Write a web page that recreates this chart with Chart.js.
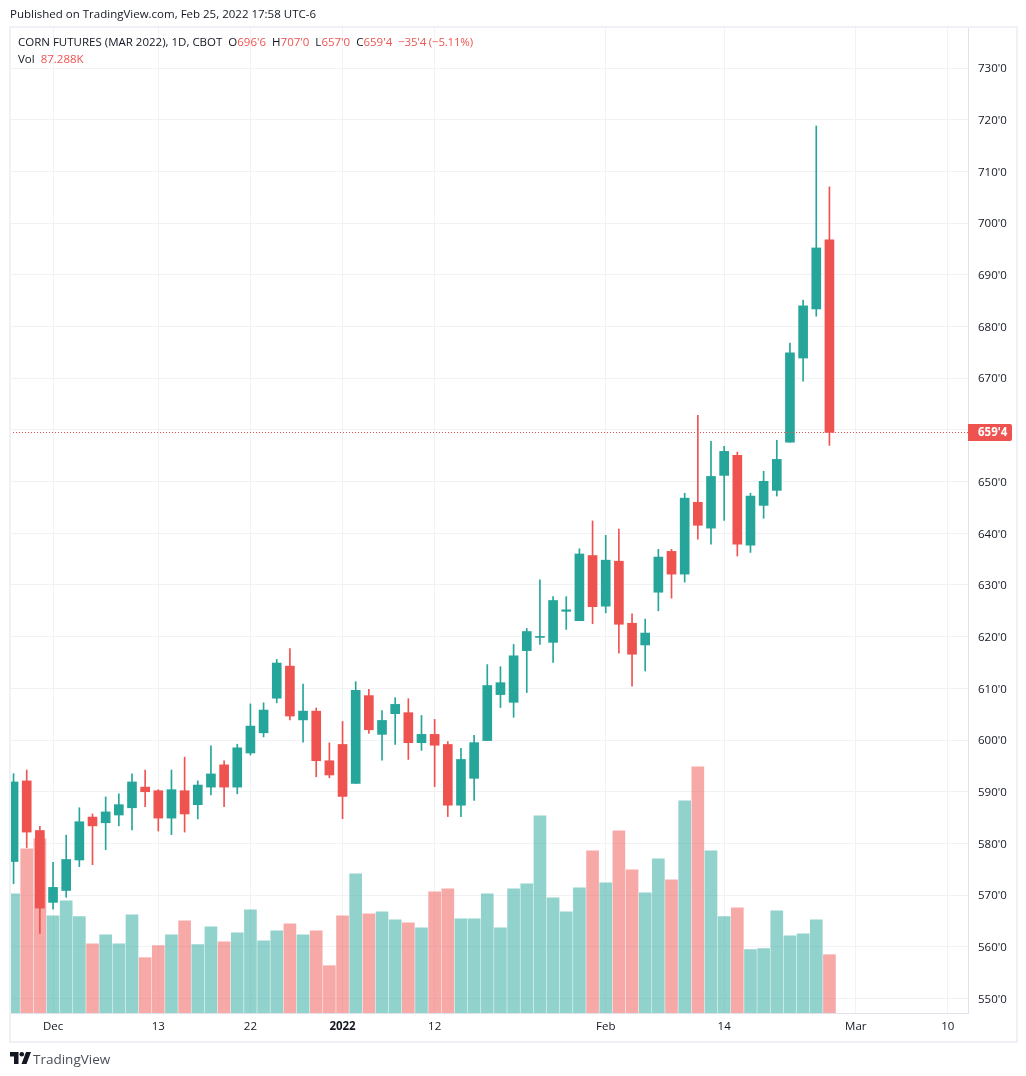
<!DOCTYPE html>
<html>
<head>
<meta charset="utf-8">
<script src="https://cdn.jsdelivr.net/npm/chart.js@4"></script>
<style>
  html, body { margin: 0; padding: 0; background: #fff; }
  body { width: 1026px; height: 1076px; position: relative; overflow: hidden; font-family: "Open Sans", sans-serif; color: #131722; }
  canvas { position: absolute; left: 0; top: 0; }
  .txt { position: absolute; white-space: pre; font-size: 11.5px; line-height: 14px; }
  .red { color: #ef5350; }
  #frame { position: absolute; left: 9px; top: 26px; width: 1005px; height: 1013px; border: 2px solid #f0f1f6; }
</style>
</head>
<body>
<canvas id="cornChart" width="1026" height="1076"></canvas>
<div id="frame"></div>
<div class="txt" style="left:10px;top:7px">Published on TradingView.com, Feb 25, 2022 17:58 UTC-6</div>
<div class="txt" style="left:18px;top:35px">CORN FUTURES (MAR 2022), 1D, CBOT  O<span class="red">696'6</span>  H<span class="red">707'0</span>  L<span class="red">657'0</span>  C<span class="red">659'4</span>  <span class="red" style="letter-spacing:-0.2px">−35'4 (−5.11%)</span></div>
<div class="txt" style="left:18px;top:52px">Vol  <span class="red">87.288K</span></div>
<svg style="position:absolute;left:10px;top:1052px" width="21" height="12" viewBox="0 0 21 12">
  <path d="M0 0H8.5V12H4V4.5H0Z M16 0H21L16.5 12H11.5Z" fill="#131722"/>
  <circle cx="11.8" cy="2.3" r="2.3" fill="#131722"/>
</svg>
<div class="txt" style="left:33px;top:1051px;font-size:13.5px;line-height:16px;color:#4a4e59">TradingView</div>

<script>
const opens = [576.5,592.1,582.5,568.6,570.9,576.8,585.1,584,585.5,586.9,590.9,590.2,584.9,590.2,587.5,590.9,595.2,590.9,597.5,601.4,608.1,614.3,603.9,605.6,596,599.15,591.6,608.6,601.1,605.1,605.3,599.5,601.1,599.15,587.4,592.6,599.9,608.8,607.3,617.3,619.85,618.9,624.9,623.1,635.7,625.9,634.6,622.6,618.4,628.6,636.5,632.1,646,641,651.2,655.1,637.7,645.4,648.3,657.65,673.9,683.4,696.75];
const highs = [593.5,594.2,583.3,576.35,581.6,586.9,585.7,589,589.6,593.45,594.2,590.4,594.2,596.7,592.1,598.9,596,599.2,607,607.2,615.6,617.7,610.85,606.2,599.45,603.6,611.3,609.8,605.7,608.2,608,604.75,604,599.7,598.4,600.9,614.6,614.2,618.5,621.6,631,627.75,627.75,637,642.4,639.6,640.8,624.4,623.4,636.9,636.9,647.75,662.8,657.8,656.8,655.7,647.75,652,658,676.8,685.1,718.8,707];
const lows = [572.2,579.2,562.6,567.3,569.6,575.5,575.9,578.8,583.4,582.6,587.1,582.4,581.7,582.2,584.75,589.4,587.1,589.6,597.1,600.6,607.2,603.9,599.6,592.9,592.7,584.8,591.6,601.3,596.1,599.15,596.25,598,591,585.2,585.2,588.3,599.9,606.3,604.4,609.2,618.5,615,621.4,623.1,622.5,624.6,616.8,610.45,613.35,625,627.45,630.55,638.85,637.9,642.5,635.6,636.3,642.9,647.2,657.65,669.45,682,657];
const closes = [591.9,582.2,567.5,571.5,576.9,584.2,583.4,586.1,587.5,591.9,590,584.9,590.4,585.7,591.3,593.45,590.9,598.5,602.7,605.8,614.9,604.65,605.6,596,593.25,589.1,609.6,602,603.8,606.9,599.5,601.1,599,587.4,596.25,599.5,610.55,611.1,616.3,621,620.05,627,625.2,636,625.8,634.8,622.4,616.6,620.7,635.4,632.1,646.8,641.55,651,655.85,637.9,647.2,650.05,654.3,674.9,684,695.2,659.5];
const volumes = [178.6,245.9,260.9,145.6,168.1,144.2,103.7,117.2,103.7,147.1,82.8,100.8,117.2,138.2,102.3,129.2,106.7,120.2,154.6,108.2,123.2,133.7,117.2,123.2,70.8,145.6,208.5,148.6,151.6,139.7,135.2,127.7,181.6,186,141.1,141.1,178.6,127.7,186,193.5,295.3,172.6,151.6,187.5,242.9,195,272.8,214.5,180,230.9,199.5,317.7,368.6,242.9,144.2,157.6,94.8,96.3,153.1,115.7,118.7,139.7,87.288];
const priceTicks = [550,560,570,580,590,600,610,620,630,640,650,660,670,680,690,700,710,720,730];
const timeTickPositions = [3,11,18,25,32,45,54,64,71];
const timeTickLabels = ["Dec","13","22","2022","12","Feb","14","Mar","10"];
const lastPrice = 659.5;
const lastPriceLabel = "659'4";

const UP = "#26a69a", DOWN = "#ef5350";
const UP_VOL = "rgba(38,166,154,0.5)", DOWN_VOL = "rgba(239,83,80,0.5)";
const GRID = "#f1f2f6";
const X_MIN = -0.27, X_MAX = 72.53;

const isUp = opens.map((o, i) => closes[i] >= o);

// red price tag on the right axis
const lastPriceTag = {
    id: "lastPriceTag",
    afterDraw(chart) {
        const ctx = chart.ctx;
        const y = chart.scales.y.getPixelForValue(lastPrice);
        const left = chart.chartArea.right;
        ctx.save();
        ctx.fillStyle = DOWN;
        ctx.beginPath();
        ctx.roundRect(left, Math.round(y) - 8, 44, 17, [0, 2, 2, 0]);
        ctx.fill();
        ctx.fillStyle = "#fff";
        ctx.font = "bold 11.5px 'Open Sans', sans-serif";
        ctx.textAlign = "left";
        ctx.textBaseline = "middle";
        ctx.fillText(lastPriceLabel, left + 10, Math.round(y) + 1);
        ctx.restore();
    }
};

new Chart(document.getElementById("cornChart").getContext("2d"), {
    data: {
        datasets: [
            {
                type: "line",
                data: [{ x: X_MIN, y: lastPrice }, { x: X_MAX, y: lastPrice }],
                borderColor: DOWN,
                borderWidth: 1,
                borderDash: [1, 2],
                pointRadius: 0,
                yAxisID: "y",
                order: 0
            },
            {
                type: "bar",
                data: opens.map((o, i) => ({ x: i, y: [o, closes[i]] })),
                backgroundColor: isUp.map(u => u ? UP : DOWN),
                barThickness: 9,
                grouped: false,
                minBarLength: 1,
                yAxisID: "y",
                order: 1
            },
            {
                type: "bar",
                data: lows.map((l, i) => ({ x: i, y: [l, highs[i]] })),
                backgroundColor: isUp.map(u => u ? UP : DOWN),
                barThickness: 1,
                grouped: false,
                yAxisID: "y",
                order: 2
            },
            {
                type: "bar",
                data: volumes.map((v, i) => ({ x: i, y: v })),
                backgroundColor: isUp.map(u => u ? UP_VOL : DOWN_VOL),
                barThickness: 12,
                grouped: false,
                yAxisID: "vol",
                order: 3
            }
        ]
    },
    options: {
        responsive: false,
        animation: false,
        events: [],
        layout: { padding: { left: 10, top: 28, right: 11, bottom: 36 } },
        plugins: { legend: { display: false }, tooltip: { enabled: false } },
        scales: {
            x: {
                type: "linear",
                offset: false,
                min: X_MIN,
                max: X_MAX,
                grid: { color: GRID, drawTicks: false, offset: false },
                border: { color: "#e0e3eb" },
                afterBuildTicks: axis => { axis.ticks = timeTickPositions.map(v => ({ value: v })); },
                afterFit: axis => { axis.height = 27; },
                ticks: {
                    autoSkip: false,
                    maxRotation: 0,
                    padding: 7,
                    color: "#131722",
                    font: ctx => ({
                        family: "'Open Sans', sans-serif",
                        size: 11.5,
                        weight: ctx.tick && ctx.tick.value === 25 ? "bold" : "normal"
                    }),
                    callback: v => timeTickLabels[timeTickPositions.indexOf(v)]
                }
            },
            y: {
                position: "right",
                min: 547.2,
                max: 737.75,
                grid: { color: GRID, drawTicks: false },
                border: { color: "#e0e3eb" },
                afterBuildTicks: axis => { axis.ticks = priceTicks.map(v => ({ value: v })); },
                afterFit: axis => { axis.width = 47; },
                ticks: {
                    padding: 10,
                    labelOffset: 1,
                    color: "#131722",
                    font: { family: "'Open Sans', sans-serif", size: 11.5 },
                    callback: v => v + "'0"
                }
            },
            vol: {
                display: false,
                min: 0,
                max: 1475
            }
        }
    },
    plugins: [lastPriceTag]
});
</script>
</body>
</html>
